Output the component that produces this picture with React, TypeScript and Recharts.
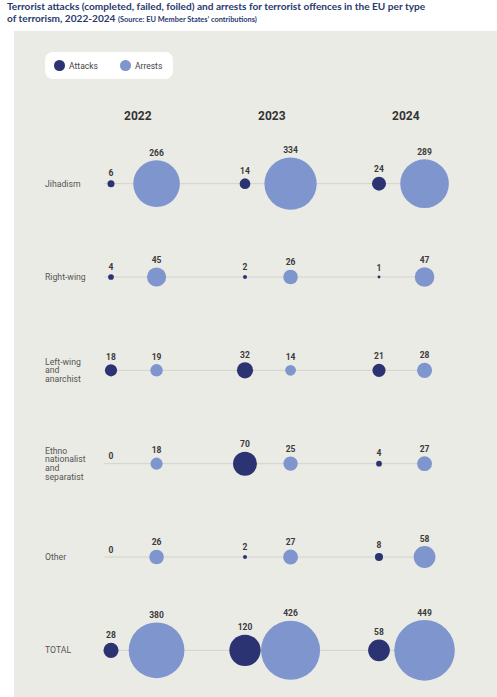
import React from 'react';
import { ScatterChart, Scatter, XAxis, YAxis, ZAxis, ReferenceLine, LabelList, Legend } from 'recharts';

const categories = [
  ['Jihadism'],
  ['Right-wing'],
  ['Left-wing', 'and', 'anarchist'],
  ['Ethno', 'nationalist', 'and', 'separatist'],
  ['Other'],
  ['TOTAL'],
];

const years = ['2022', '2023', '2024'];
const seriesNames = ['Attacks', 'Arrests'];

const attacks2022 = [6, 4, 18, 0, 0, 28];
const attacks2023 = [14, 2, 32, 70, 2, 120];
const attacks2024 = [24, 1, 21, 4, 8, 58];

const arrests2022 = [266, 45, 19, 18, 26, 380];
const arrests2023 = [334, 26, 14, 25, 27, 426];
const arrests2024 = [289, 47, 28, 27, 58, 449];

const attacksByYear = [attacks2022, attacks2023, attacks2024];
const arrestsByYear = [arrests2022, arrests2023, arrests2024];

const ATTACK_COLOR = '#2c3372';
const ARREST_COLOR = '#7f95cd';
const ARREST_OFFSET = 0.34;
const HEADER_OFFSET = 0.2;
const MAX_VALUE = 449;
const MAX_AREA = Math.PI * 30.3 * 30.3;

const toPoints = (byYear: number[][], offset: number) =>
  byYear.flatMap((vals, yi) => vals.map((value, ri) => ({ x: yi + offset, y: ri, value })));

const attackPoints = toPoints(attacksByYear, 0);
const arrestPoints = toPoints(arrestsByYear, ARREST_OFFSET);

const font = 'Roboto, sans-serif';

const ValueLabel = (props: any) => {
  const vb = props.viewBox || props;
  const x = vb.x + (vb.width || 0) / 2;
  const y = vb.y;
  return (
    <text x={x} y={y - 4.5} textAnchor="middle" fill="#3a3a3a" fontSize={8.5} fontWeight={700} fontFamily={font}>
      {props.value}
    </text>
  );
};

const RowTick = (props: any) => {
  const lines = categories[props.payload.value] || [];
  const lh = 8.6;
  const start = props.y - ((lines.length - 1) * lh) / 2;
  return (
    <text x={45} y={start} fill="#555" fontSize={8.7} fontFamily={font} dominantBaseline="central">
      {lines.map((l, i) => (
        <tspan key={i} x={45} y={start + i * lh} dominantBaseline="central">
          {l}
        </tspan>
      ))}
    </text>
  );
};

const YearTick = (props: any) => {
  const label = years[Math.round(props.payload.value - HEADER_OFFSET)];
  return (
    <text x={props.x} y={120} textAnchor="middle" fill="#333" fontSize={12} fontWeight={700} fontFamily={font}>
      {label}
    </text>
  );
};

const LegendBox = (props: any) => {
  const items = [...(props.payload || [])].sort(
    (a: any, b: any) => seriesNames.indexOf(a.value) - seriesNames.indexOf(b.value)
  );
  return (
    <div
      style={{
        width: 128,
        height: 27,
        background: '#fff',
        borderRadius: 8,
        display: 'flex',
        alignItems: 'center',
        paddingLeft: 9,
        boxSizing: 'border-box',
        fontFamily: font,
        fontSize: 8.5,
        color: '#444',
      }}
    >
      {items.map((it: any, i: number) => (
        <div key={i} style={{ display: 'flex', alignItems: 'center', marginRight: 22 }}>
          <span
            style={{ width: 10.6, height: 10.6, borderRadius: '50%', background: it.color, display: 'inline-block', marginRight: 4.5 }}
          />
          {it.value}
        </div>
      ))}
    </div>
  );
};

export default function App() {
  return (
    <div style={{ position: 'absolute', left: 0, top: 0, width: 497, height: 697, background: '#fff', overflow: 'hidden' }}>
      <div
        style={{
          position: 'absolute',
          left: 7,
          top: 0,
          fontFamily: 'Lato, sans-serif',
          fontWeight: 700,
          fontSize: 10.1,
          lineHeight: '12.4px',
          color: '#283a6e',
          whiteSpace: 'nowrap',
        }}
      >
        Terrorist attacks (completed, failed, foiled) and arrests for terrorist offences in the EU per type
        <br />
        of terrorism, 2022-2024 <span style={{ fontSize: 7.4 }}>(Source: EU Member States’ contributions)</span>
      </div>
      <div style={{ position: 'absolute', left: 14, top: 31, width: 483, height: 666, background: '#ebebe6' }} />
      <div style={{ position: 'absolute', left: 0, top: 0 }}>
        <ScatterChart width={497} height={697} margin={{ top: 107, right: 51, bottom: 0, left: 4 }}>
          <XAxis
            type="number"
            dataKey="x"
            orientation="top"
            domain={[-0.5, 2.5]}
            ticks={years.map((_, i) => i + HEADER_OFFSET)}
            tick={<YearTick />}
            axisLine={false}
            tickLine={false}
            height={30}
          />
          <YAxis
            type="number"
            dataKey="y"
            domain={[-0.5, 5.5]}
            reversed
            ticks={categories.map((_, i) => i)}
            tick={<RowTick />}
            axisLine={false}
            tickLine={false}
            width={40}
          />
          <ZAxis type="number" dataKey="value" domain={[0, MAX_VALUE]} range={[0, MAX_AREA]} />
          {categories.map((_, i) => (
            <ReferenceLine
              key={i}
              segment={[
                { x: -0.05, y: i },
                { x: 2 + ARREST_OFFSET, y: i },
              ]}
              stroke="#d3d3ce"
              strokeWidth={1}
            />
          ))}
          <Legend
            layout="horizontal"
            verticalAlign="middle"
            align="center"
            wrapperStyle={{ left: 45, top: 52, width: 128, height: 27 }}
            content={<LegendBox />}
          />
          <Scatter name="Attacks" data={attackPoints} fill={ATTACK_COLOR} isAnimationActive={false}>
            <LabelList dataKey="value" content={<ValueLabel />} />
          </Scatter>
          <Scatter name="Arrests" data={arrestPoints} fill={ARREST_COLOR} isAnimationActive={false}>
            <LabelList dataKey="value" content={<ValueLabel />} />
          </Scatter>
        </ScatterChart>
      </div>
    </div>
  );
}
